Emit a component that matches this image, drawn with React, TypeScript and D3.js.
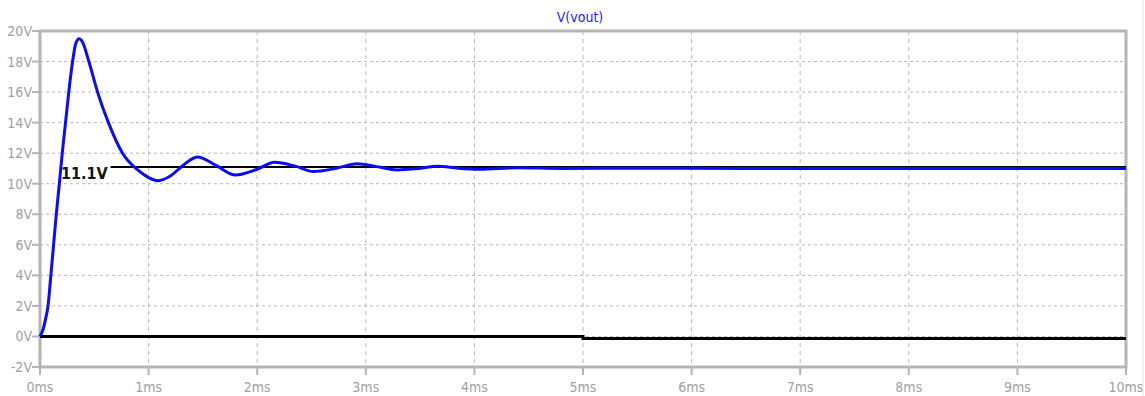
import React, { useEffect, useRef } from "react";
import * as d3 from "d3";

const width = 1145;
const height = 396;
const margin = { top: 31, right: 19, bottom: 29, left: 40 };

// V(vout) transient, time in ms, voltage in V
const timeMs = [
  0, 0.03, 0.05, 0.074, 0.1, 0.125, 0.15, 0.178, 0.205, 0.235, 0.265, 0.3, 0.33, 0.36, 0.39,
  0.45, 0.53, 0.63, 0.76, 0.9, 1.0, 1.09, 1.2, 1.3, 1.45, 1.62, 1.8, 2.0, 2.16, 2.35,
  2.52, 2.72, 2.92, 3.1, 3.29, 3.48, 3.66, 3.85, 4.05, 4.4, 4.8, 5.5, 6.5, 8, 10,
];
const vout = [
  0, 0.5, 1.1, 2, 4, 6, 8, 10, 12, 14, 16, 18, 19.2, 19.5, 19.3,
  18, 16, 14, 12, 10.9, 10.4, 10.2, 10.5, 11.1, 11.75, 11.2, 10.57, 10.95, 11.4, 11.15,
  10.8, 11.0, 11.3, 11.12, 10.9, 11.0, 11.15, 11.02, 10.95, 11.05, 11.0, 11.02, 11.0, 11.0, 11.0,
];

// black reference trace (ground node), steps slightly at 5ms
const refTime = [0, 5, 5, 10];
const refVolt = [0, 0, -0.13, -0.13];

const cursorValue = 11.1;
const cursorStartMs = 0.65;

const yTicks = [-2, 0, 2, 4, 6, 8, 10, 12, 14, 16, 18, 20];
const xTicks = [0, 1, 2, 3, 4, 5, 6, 7, 8, 9, 10];

const axisGrey = "#b4b4b4";
const labelGrey = "#a0a0a0";
const labelFont = "'DejaVu Sans Condensed', 'DejaVu Sans', sans-serif";

export default function App() {
  const ref = useRef<SVGSVGElement | null>(null);

  useEffect(() => {
    const svg = d3.select(ref.current);
    svg.selectAll("*").remove();

    const x = d3.scaleLinear().domain([0, 10]).range([margin.left, width - margin.right]);
    const y = d3.scaleLinear().domain([-2, 20]).range([height - margin.bottom, margin.top]);

    // grid
    const grid = svg.append("g");
    grid
      .selectAll("line.h")
      .data(yTicks.slice(1, -1))
      .enter()
      .append("line")
      .attr("x1", x(0))
      .attr("x2", x(10))
      .attr("y1", (d) => y(d))
      .attr("y2", (d) => y(d))
      .attr("stroke", "#b8b8b8")
      .attr("stroke-dasharray", "3,3");
    grid
      .selectAll("line.v")
      .data(xTicks.slice(1, -1))
      .enter()
      .append("line")
      .attr("x1", (d) => x(d))
      .attr("x2", (d) => x(d))
      .attr("y1", y(20))
      .attr("y2", y(-2))
      .attr("stroke", "#b8b8b8")
      .attr("stroke-dasharray", "4,4");

    // frame
    svg
      .append("rect")
      .attr("x", x(0))
      .attr("y", y(20))
      .attr("width", x(10) - x(0))
      .attr("height", y(-2) - y(20))
      .attr("fill", "none")
      .attr("stroke", axisGrey)
      .attr("stroke-width", 3);

    // y axis ticks + labels
    const yAxis = svg.append("g");
    yAxis
      .selectAll("line")
      .data(yTicks)
      .enter()
      .append("line")
      .attr("x1", x(0) - 8)
      .attr("x2", x(0))
      .attr("y1", (d) => y(d))
      .attr("y2", (d) => y(d))
      .attr("stroke", axisGrey)
      .attr("stroke-width", 2);
    yAxis
      .selectAll("text")
      .data(yTicks)
      .enter()
      .append("text")
      .attr("x", x(0) - 8)
      .attr("y", (d) => y(d))
      .attr("dy", "0.36em")
      .attr("text-anchor", "end")
      .attr("fill", labelGrey)
      .style("font-family", labelFont)
      .style("font-size", "14px")
      .text((d) => `${d}V`);

    // x axis ticks + labels
    const xAxis = svg.append("g");
    xAxis
      .selectAll("line")
      .data(xTicks)
      .enter()
      .append("line")
      .attr("x1", (d) => x(d))
      .attr("x2", (d) => x(d))
      .attr("y1", y(-2))
      .attr("y2", y(-2) + 8)
      .attr("stroke", axisGrey)
      .attr("stroke-width", 2);
    xAxis
      .selectAll("text")
      .data(xTicks)
      .enter()
      .append("text")
      .attr("x", (d) => x(d))
      .attr("y", y(-2) + 25)
      .attr("text-anchor", "middle")
      .attr("fill", labelGrey)
      .style("font-family", labelFont)
      .style("font-size", "14px")
      .text((d) => `${d}ms`);

    // title
    svg
      .append("text")
      .attr("x", 580)
      .attr("y", 22)
      .attr("text-anchor", "middle")
      .attr("fill", "#1a1aff")
      .style("font-family", labelFont)
      .style("font-size", "14px")
      .text("V(vout)");

    // reference trace
    const refData = refTime.map((t, i) => [t, refVolt[i]] as [number, number]);
    svg
      .append("path")
      .datum(refData)
      .attr("fill", "none")
      .attr("stroke", "#000")
      .attr("stroke-width", 3)
      .attr("d", d3.line<[number, number]>().x((d) => x(d[0])).y((d) => y(d[1])));

    // cursor line
    svg
      .append("line")
      .attr("x1", x(cursorStartMs))
      .attr("x2", x(10))
      .attr("y1", y(cursorValue))
      .attr("y2", y(cursorValue))
      .attr("stroke", "#000")
      .attr("stroke-width", 2);

    // signal
    const data = timeMs.map((t, i) => [t, vout[i]] as [number, number]);
    svg
      .append("path")
      .datum(data)
      .attr("fill", "none")
      .attr("stroke", "#0a0aff")
      .attr("stroke-width", 3)
      .attr("stroke-linejoin", "round")
      .attr(
        "d",
        d3
          .line<[number, number]>()
          .x((d) => x(d[0]))
          .y((d) => y(d[1]))
          .curve(d3.curveMonotoneX)
      );

    // cursor label
    svg
      .append("text")
      .attr("x", x(cursorStartMs) - 3)
      .attr("y", y(cursorValue) + 12)
      .attr("text-anchor", "end")
      .attr("fill", "#1a1208")
      .style("font-family", labelFont)
      .style("font-weight", "bold")
      .style("font-size", "16px")
      .text(`${cursorValue}V`);

    // right window border
    svg
      .append("line")
      .attr("x1", width - 2)
      .attr("x2", width - 2)
      .attr("y1", 0)
      .attr("y2", height)
      .attr("stroke", "#e4e4e4");
  }, []);

  return (
    <svg
      ref={ref}
      width={width}
      height={height}
      style={{ position: "absolute", left: 0, top: 0, background: "#fff" }}
    />
  );
}
